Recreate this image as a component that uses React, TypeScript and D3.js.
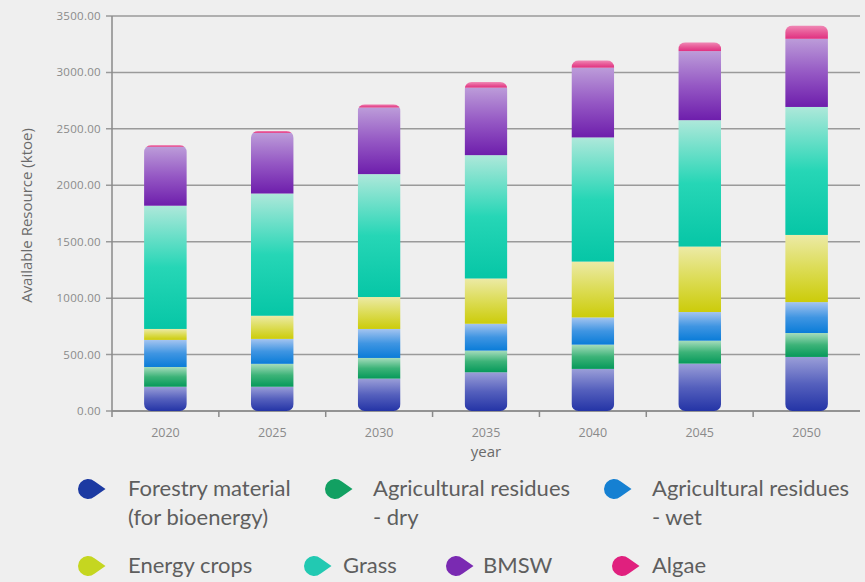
import React, { useEffect, useRef } from 'react'
import * as d3 from 'd3'

const years = ['2020', '2025', '2030', '2035', '2040', '2045', '2050']
const seriesKeys = ['forestry', 'agDry', 'agWet', 'energy', 'grass', 'bmsw', 'algae']

// values in ktoe
const forestry = [215, 215, 287, 343, 373, 420, 479]
const agDry = [175, 203, 183, 192, 215, 203, 212]
const agWet = [240, 221, 257, 238, 241, 254, 274]
const energyCrops = [97, 205, 283, 401, 495, 580, 595]
const grass = [1092, 1083, 1089, 1093, 1100, 1120, 1134]
const bmsw = [522, 537, 590, 598, 618, 612, 604]
const algae = [15, 18, 29, 50, 65, 78, 118]

const yTicks = [0, 500, 1000, 1500, 2000, 2500, 3000, 3500]

const legendLabels = [
  ['Forestry material', '(for bioenergy)'],
  ['Agricultural residues', '- dry'],
  ['Agricultural residues', '- wet'],
  ['Energy crops'],
  ['Grass'],
  ['BMSW'],
  ['Algae'],
]

const markerColors = ['#1c3aa2', '#12a062', '#1580d2', '#c5d620', '#22c9b2', '#7a2ab2', '#e0207e']
// gradient stops, top -> bottom of each segment
const gradients = [
  ['#9a9ed8', '#5560bd', '#2434a6'],
  ['#a6dcbc', '#3cb378', '#06995a'],
  ['#a4c4f0', '#3f95e2', '#0a7cd8'],
  ['#eceaa6', '#dcdc55', '#cccc0a'],
  ['#aee8da', '#26d6b6', '#06c6a6'],
  ['#bc9cd9', '#9558c4', '#6e1eac'],
  ['#f08ab6', '#e85a98', '#e03080'],
]

export default function App() {
  const ref = useRef<SVGSVGElement>(null)

  useEffect(() => {
    const W = 865, H = 582
    const m = { left: 112, right: 860, top: 16, bottom: 411 }
    const svg = d3.select(ref.current)
    svg.selectAll('*').remove()

    svg.append('rect').attr('width', W).attr('height', H).attr('fill', '#efefef')

    const rows = years.map((y, i) => ({
      year: y,
      forestry: forestry[i],
      agDry: agDry[i],
      agWet: agWet[i],
      energy: energyCrops[i],
      grass: grass[i],
      bmsw: bmsw[i],
      algae: algae[i],
    }))

    const x = d3.scaleBand().domain(years).range([m.left, m.right]).paddingInner(0.6).paddingOuter(0.3)
    const xb = d3.scaleBand().domain(years).range([m.left, m.right])
    const y = d3.scaleLinear().domain([0, 3500]).range([m.bottom, m.top])

    const defs = svg.append('defs')
    gradients.forEach((g, i) => {
      const lg = defs.append('linearGradient')
        .attr('id', 'grad' + i)
        .attr('x1', 0).attr('y1', 0).attr('x2', 0).attr('y2', 1)
      g.forEach((c, j) => {
        lg.append('stop').attr('offset', (j / (g.length - 1)) * 100 + '%').attr('stop-color', c)
      })
    })

    // grid
    svg.append('g').selectAll('line').data(yTicks).join('line')
      .attr('x1', m.left - 6).attr('x2', m.right)
      .attr('y1', d => y(d)).attr('y2', d => y(d))
      .attr('stroke', '#9a9a9a').attr('stroke-width', 1.5)

    svg.append('g').selectAll('text').data(yTicks).join('text')
      .attr('x', m.left - 11).attr('y', d => y(d) + 4)
      .attr('text-anchor', 'end')
      .attr('font-family', 'Open Sans, sans-serif').attr('font-size', 11.5)
      .attr('letter-spacing', 0.3)
      .attr('fill', '#8a8a8a')
      .text(d => d3.format('.2f')(d))

    // axes lines
    svg.append('line').attr('x1', m.left).attr('x2', m.left).attr('y1', m.top).attr('y2', m.bottom + 6)
      .attr('stroke', '#8a8a8a').attr('stroke-width', 1.5)
    svg.append('line').attr('x1', m.left).attr('x2', m.right).attr('y1', m.bottom).attr('y2', m.bottom)
      .attr('stroke', '#8a8a8a').attr('stroke-width', 1.5)
    svg.append('g').selectAll('line').data(years.slice(1)).join('line')
      .attr('x1', d => xb(d)!).attr('x2', d => xb(d)!)
      .attr('y1', m.bottom).attr('y2', m.bottom + 6)
      .attr('stroke', '#8a8a8a').attr('stroke-width', 1.5)

    svg.append('g').selectAll('text').data(years).join('text')
      .attr('x', d => x(d)! + x.bandwidth() / 2).attr('y', m.bottom + 26)
      .attr('text-anchor', 'middle')
      .attr('font-family', 'Open Sans, sans-serif').attr('font-size', 12.5)
      .attr('fill', '#8a8a8a')
      .text(d => d)

    svg.append('text')
      .attr('x', (m.left + m.right) / 2).attr('y', 457)
      .attr('text-anchor', 'middle')
      .attr('font-family', 'Open Sans, sans-serif').attr('font-size', 15)
      .attr('fill', '#6a6a6a')
      .text('year')

    svg.append('text')
      .attr('transform', `translate(32,${(m.top + m.bottom) / 2 + 2}) rotate(-90)`)
      .attr('text-anchor', 'middle')
      .attr('font-family', 'Open Sans, sans-serif').attr('font-size', 15)
      .attr('fill', '#6a6a6a')
      .text('Available Resource (ktoe)')

    // stacked bars
    const stack = d3.stack<any>().keys(seriesKeys)(rows)
    const totals = rows.map(r => seriesKeys.reduce((s, k) => s + (r as any)[k], 0))

    years.forEach((yr, i) => {
      defs.append('clipPath').attr('id', 'clip' + i)
        .append('rect')
        .attr('x', x(yr)!).attr('width', x.bandwidth())
        .attr('y', y(totals[i])).attr('height', y(0) - y(totals[i]))
        .attr('rx', 7)
    })

    stack.forEach((layer, si) => {
      svg.append('g').selectAll('rect').data(layer).join('rect')
        .attr('clip-path', (_d, i) => `url(#clip${i})`)
        .attr('x', d => x(d.data.year)!)
        .attr('width', x.bandwidth())
        .attr('y', d => y(d[1]))
        .attr('height', d => y(d[0]) - y(d[1]))
        .attr('fill', `url(#grad${si})`)
    })

    // legend
    const legendPos = [
      [92, 489], [339, 489], [618, 489],
      [92, 566], [318, 566], [460, 566], [626, 566],
    ]
    const textX = [128, 373, 652, 128, 343, 483, 652]
    const r = 10
    const a = (50 * Math.PI) / 180
    const marker = `M ${r * 1.75} 0 L ${r * Math.cos(a)} ${-r * Math.sin(a)} A ${r} ${r} 0 1 0 ${r * Math.cos(a)} ${r * Math.sin(a)} Z`
    const lg = svg.append('g')
    legendLabels.forEach((lines, i) => {
      const [mx, my] = legendPos[i]
      lg.append('path')
        .attr('d', marker)
        .attr('transform', `translate(${mx - 4},${my})`)
        .attr('fill', markerColors[i])
      const t = lg.append('text')
        .attr('x', textX[i]).attr('y', my + 7)
        .attr('font-family', 'Lato, sans-serif').attr('font-size', 22)
        .attr('fill', '#5e5e5e')
      lines.forEach((l, j) => {
        t.append('tspan').attr('x', textX[i]).attr('dy', j === 0 ? 0 : 29).text(l)
      })
    })
  }, [])

  return (
    <svg ref={ref} width={865} height={582} style={{ position: 'absolute', left: 0, top: 0, display: 'block' }} />
  )
}
